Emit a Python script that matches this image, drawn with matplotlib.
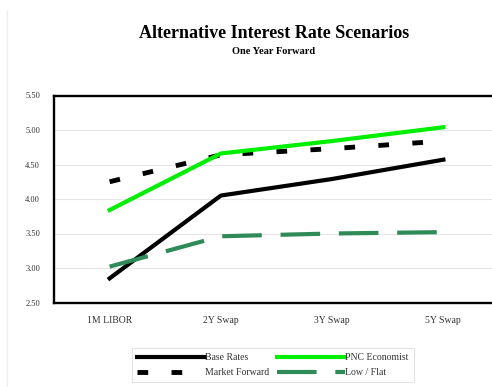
import matplotlib
matplotlib.use("Agg")
import matplotlib.pyplot as plt
from matplotlib.lines import Line2D

categories = ["1M LIBOR", "2Y Swap", "3Y Swap", "5Y Swap"]
base_rates = [2.85, 4.05, 4.29, 4.57]
pnc_economist = [3.84, 4.66, 4.84, 5.04]
market_forward = [4.25, 4.64, 4.73, 4.84]
low_flat = [3.02, 3.46, 3.50, 3.52]
y_ticks = [2.50, 3.00, 3.50, 4.00, 4.50, 5.00, 5.50]

plt.rcParams["font.family"] = ["Liberation Serif", "DejaVu Serif"]

W, H = 492, 387
fig = plt.figure(figsize=(W / 100, H / 100), dpi=100)
fig.patch.set_facecolor("white")

left, right, top, bottom = 54, 499, 95.5, 302.5
ax = fig.add_axes([left / W, 1 - bottom / H, (right - left) / W, (bottom - top) / H])

mf_style = (0, (2.2, 4.8))
lf_style = (0, (9.5, 4.5))

x = range(len(categories))
ax.plot(x, base_rates, color="black", lw=3, label="Base Rates", zorder=3)
ax.plot(x, market_forward, color="black", lw=3.5, linestyle=mf_style, label="Market Forward", zorder=3)
ax.plot(x, pnc_economist, color="#00ee00", lw=3, label="PNC Economist", zorder=3)
ax.plot(x, low_flat, color="#2e8b57", lw=3, linestyle=lf_style, label="Low / Flat", zorder=3)

ax.set_xlim(-0.5, 3.5)
ax.set_ylim(2.5, 5.5)
ax.set_yticks(y_ticks)
ax.set_yticklabels([f"{v:.2f}" for v in y_ticks], fontsize=6, color="#333333")
ax.set_xticks(list(x))
ax.set_xticklabels(categories, fontsize=7, color="#333333")
ax.tick_params(length=0, pad=10)
ax.tick_params(axis="x", pad=10)
ax.grid(axis="y", color="#e6e6e6", lw=0.8, zorder=0)
for s in ax.spines.values():
    s.set_linewidth(1.7)
    s.set_color("black")

fig.text(274 / W, 1 - 33 / H, "Alternative Interest Rate Scenarios",
         ha="center", va="center", fontsize=13, fontweight="bold")
fig.text(274 / W, 1 - 51 / H, "One Year Forward",
         ha="center", va="center", fontsize=7.5, fontweight="bold")

handles = [
    Line2D([], [], color="black", lw=3),
    Line2D([], [], color="black", lw=3.5, linestyle=mf_style),
    Line2D([], [], color="#00ee00", lw=3),
    Line2D([], [], color="#2e8b57", lw=3, linestyle=lf_style),
]
labels = ["Base Rates", "Market Forward", "PNC Economist", "Low / Flat"]
leg = fig.legend(handles, labels, ncol=2, loc="center",
                 bbox_to_anchor=(273 / W, 1 - 365 / H), fontsize=7,
                 handlelength=7, handletextpad=0.0, columnspacing=0.8,
                 labelspacing=0.6, frameon=True, fancybox=False,
                 borderpad=0.5, labelcolor="#333333")
leg.get_frame().set_edgecolor("#dddddd")
leg.get_frame().set_linewidth(0.8)

fig.add_artist(Line2D([7 / W, 7 / W], [0, 1 - 10 / H], color="#eeeeee", lw=1))

fig.savefig("out.png", dpi=100)
